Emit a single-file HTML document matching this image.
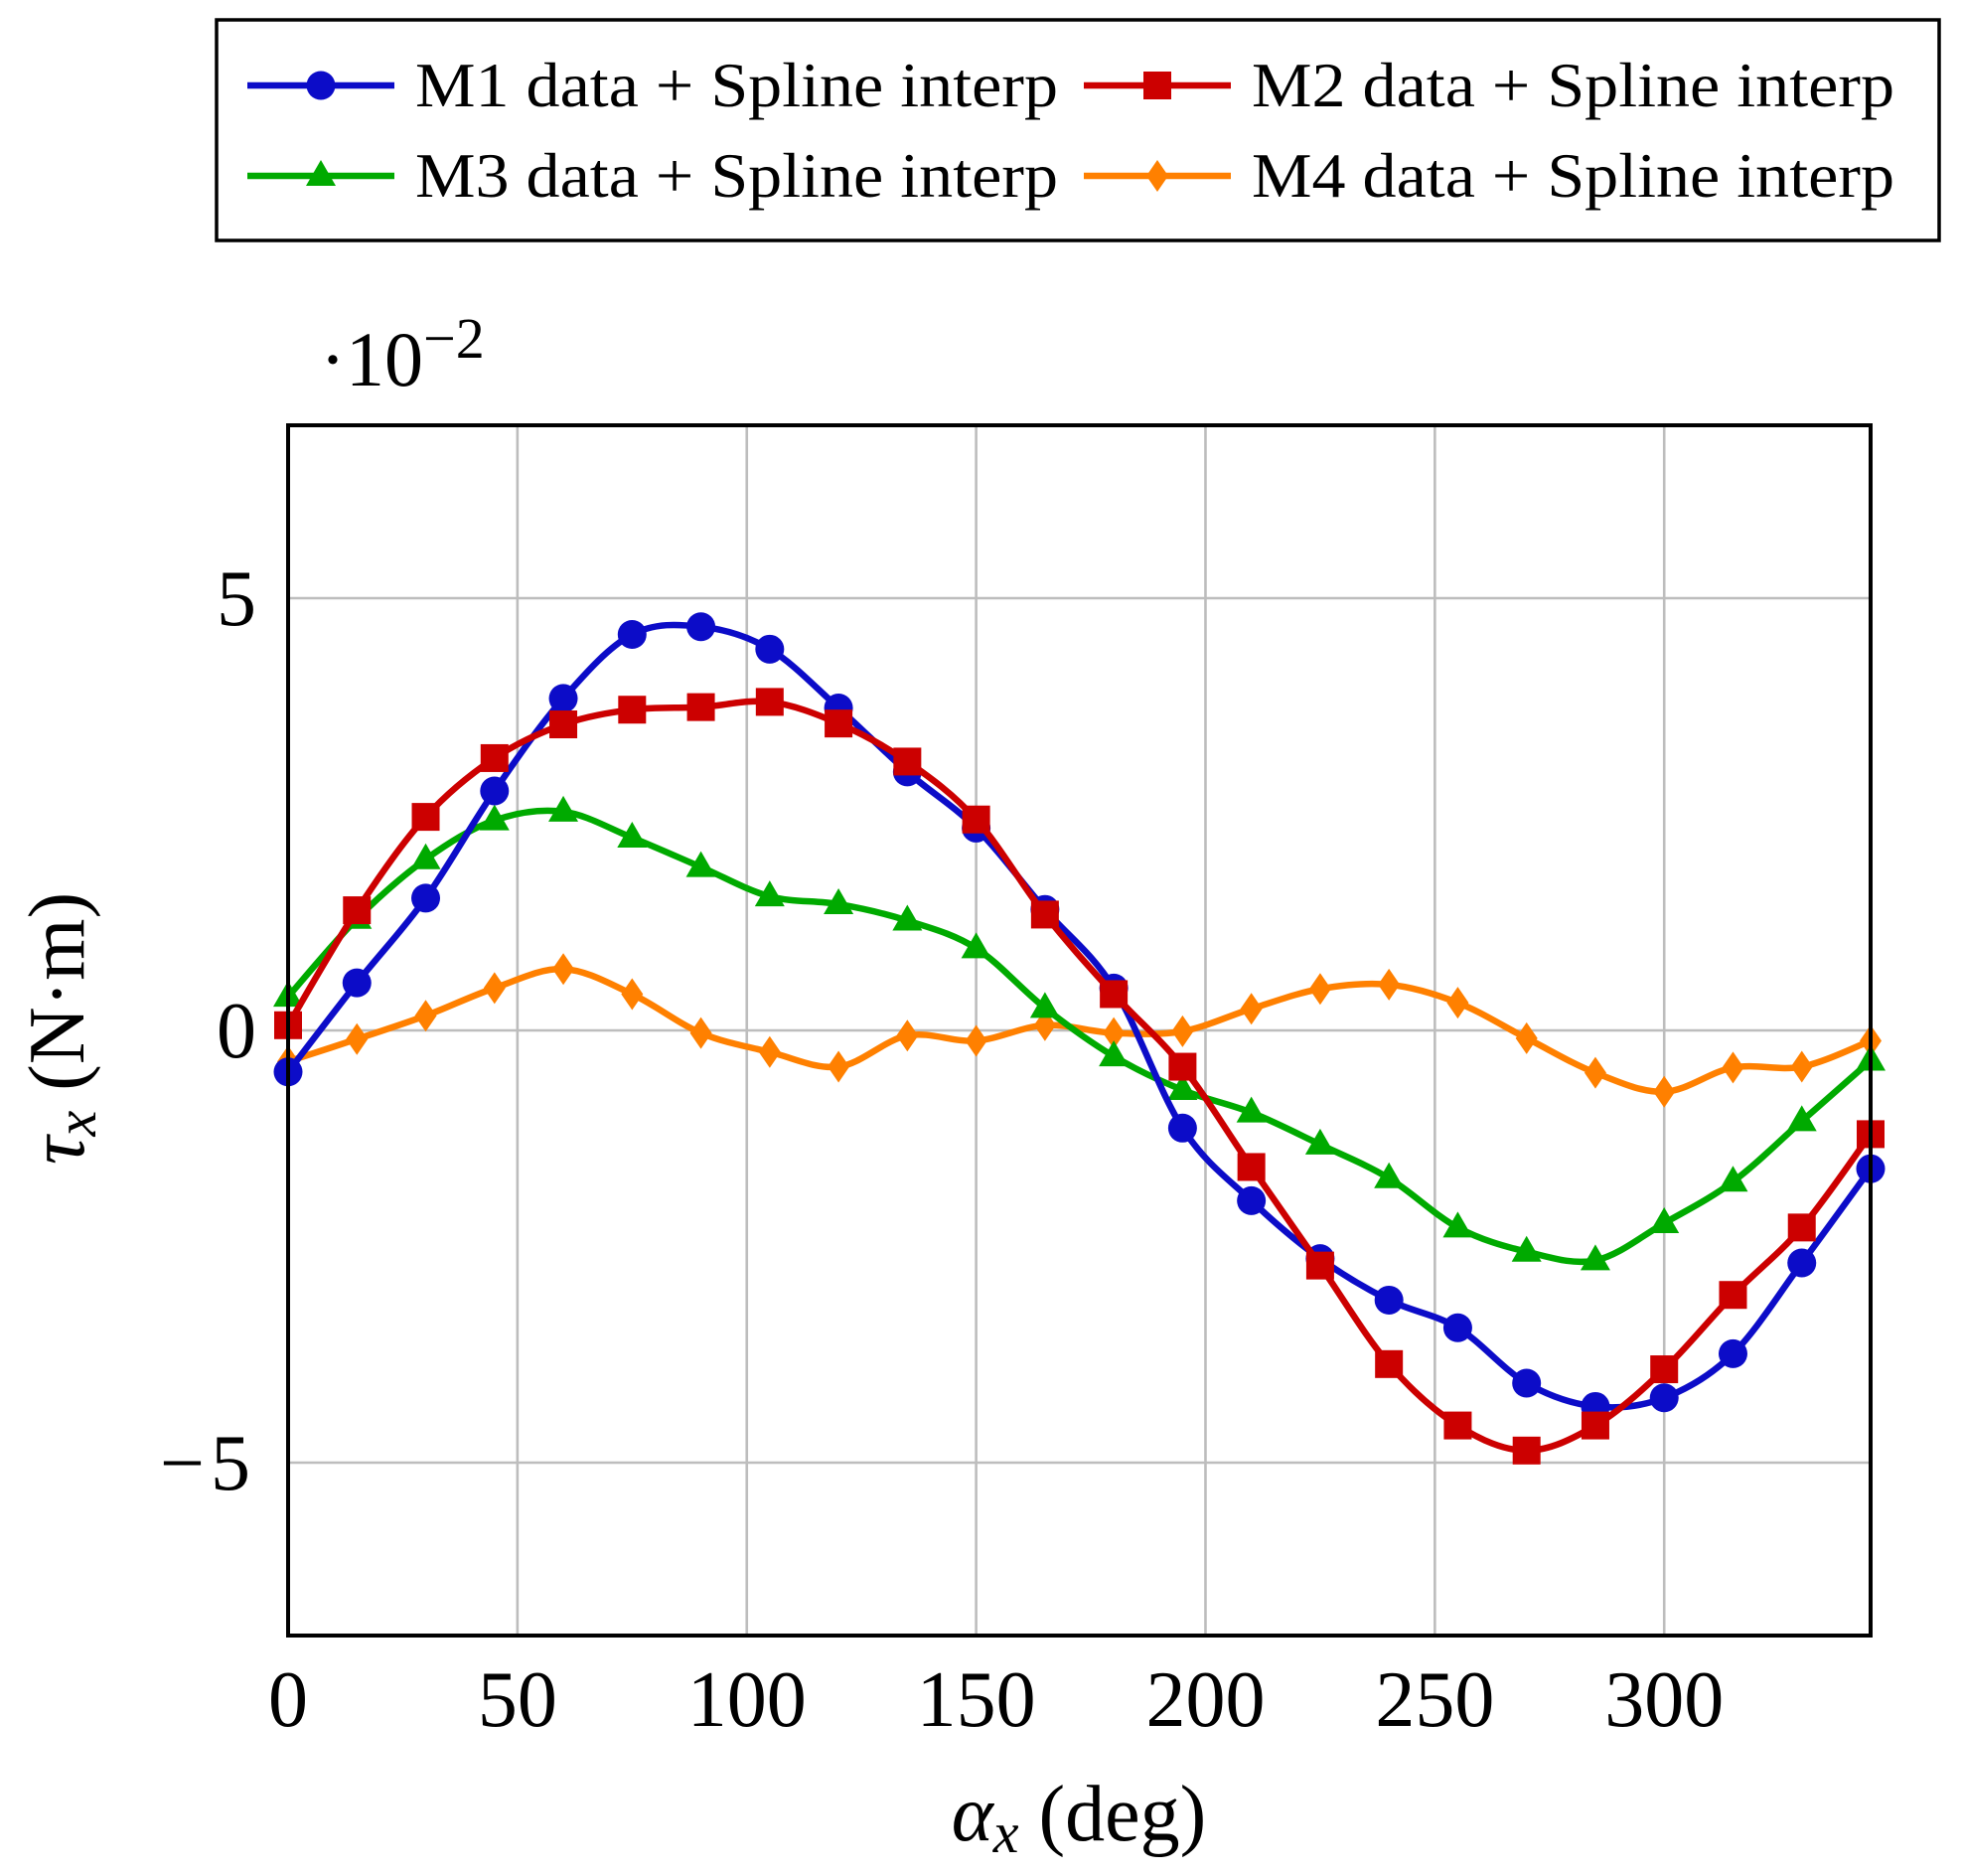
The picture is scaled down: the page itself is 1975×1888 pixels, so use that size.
<!DOCTYPE html>
<html><head><meta charset="utf-8"><style>
html,body{margin:0;padding:0;background:#fff}
svg{display:block;font-family:"Liberation Serif",serif}
</style></head><body>
<svg id="chart" width="1975" height="1888" viewBox="0 0 1975 1888" xmlns="http://www.w3.org/2000/svg">
<g id="grid"></g>
<g id="series"></g>
<rect x="290" y="428" width="1593" height="1218" fill="none" stroke="#000" stroke-width="4"/>
<g id="ticks" font-size="80"></g>
<text x="322" y="388" font-size="78">·10<tspan dy="-28" font-size="58">−2</tspan></text>
<text transform="translate(84,1035) rotate(-90)" text-anchor="middle" font-size="80"><tspan font-style="italic">τ</tspan><tspan font-style="italic" font-size="58" dy="12">x</tspan><tspan dy="-12"> (N·m)</tspan></text>
<text x="1086" y="1852" text-anchor="middle" font-size="80"><tspan font-style="italic">α</tspan><tspan font-style="italic" font-size="58" dy="12">x</tspan><tspan dy="-12"> (deg)</tspan></text>
<g id="legend">
<rect x="218" y="20" width="1734" height="222" fill="#fff" stroke="#000" stroke-width="3.5"/>
</g>
</svg>
<script>
const xs = [0,15,30,45,60,75,90,105,120,135,150,165,180,195,210,225,240,255,270,285,300,315,330,345];
const m1 = [-0.48,0.55,1.53,2.77,3.84,4.58,4.67,4.41,3.73,2.99,2.34,1.40,0.49,-1.13,-1.97,-2.64,-3.12,-3.44,-4.08,-4.35,-4.25,-3.74,-2.69,-1.60];
const m2 = [0.06,1.39,2.47,3.15,3.54,3.71,3.74,3.80,3.55,3.11,2.44,1.34,0.42,-0.42,-1.58,-2.72,-3.86,-4.57,-4.86,-4.57,-3.92,-3.06,-2.28,-1.20];
const m3 = [0.39,1.29,1.98,2.43,2.53,2.23,1.89,1.55,1.46,1.27,0.95,0.26,-0.30,-0.69,-0.95,-1.32,-1.71,-2.28,-2.56,-2.66,-2.23,-1.75,-1.05,-0.35];
const m4 = [-0.36,-0.10,0.17,0.49,0.71,0.42,-0.03,-0.25,-0.42,-0.06,-0.12,0.06,-0.03,-0.01,0.25,0.48,0.53,0.32,-0.09,-0.49,-0.71,-0.43,-0.42,-0.12];
const xTicks = [0,50,100,150,200,250,300];
const yTicks = [-5,0,5];
const seriesNames = ["M1 data + Spline interp","M2 data + Spline interp","M3 data + Spline interp","M4 data + Spline interp"];

const NS="http://www.w3.org/2000/svg";
const X0=290,X1=1883,Y0=428,Y1=1646;
const xMin=0,xMax=345,yMin=-7,yMax=7;
const sx=v=>X0+(v-xMin)/(xMax-xMin)*(X1-X0);
const sy=v=>Y1-(v-yMin)/(yMax-yMin)*(Y1-Y0);
function mk(tag,attrs,parent){const e=document.createElementNS(NS,tag);for(const k in attrs)e.setAttribute(k,attrs[k]);parent.appendChild(e);return e;}
const grid=document.getElementById('grid'),ticks=document.getElementById('ticks'),sg=document.getElementById('series'),lg=document.getElementById('legend');
xTicks.forEach(t=>{
  const l=mk('line',{x1:sx(t),x2:sx(t),y1:Y0,y2:Y1,stroke:'#bdbdbd','stroke-width':2.6},grid);
  
  
  const tx=mk('text',{x:sx(t),y:1737,'text-anchor':'middle'},ticks);tx.textContent=t;
  
  
});
yTicks.forEach(t=>{
  const l=mk('line',{x1:X0,x2:X1,y1:sy(t),y2:sy(t),stroke:'#bdbdbd','stroke-width':2.6},grid);
  
  
  const tx=mk('text',{x:258,y:sy(t)+27,'text-anchor':'end'},ticks);tx.textContent=t<0?'−'+Math.abs(t):t;
  if(t<0)tx.setAttribute('letter-spacing','6');
  
  
});
function splinePath(pts){
  let d=`M${pts[0][0]},${pts[0][1]}`;
  for(let i=0;i<pts.length-1;i++){
    const p0=pts[Math.max(0,i-1)],p1=pts[i],p2=pts[i+1],p3=pts[Math.min(pts.length-1,i+2)];
    const c1=[p1[0]+(p2[0]-p0[0])/6,p1[1]+(p2[1]-p0[1])/6],c2=[p2[0]-(p3[0]-p1[0])/6,p2[1]-(p3[1]-p1[1])/6];
    d+=` C${c1[0]},${c1[1]} ${c2[0]},${c2[1]} ${p2[0]},${p2[1]}`;
  }
  return d;
}
function marker(type,x,y,color,parent){
  let e;
  if(type==='circle')e=mk('circle',{cx:x,cy:y,r:14.5,fill:color},parent);
  else if(type==='square')e=mk('rect',{x:x-14,y:y-14,width:28,height:28,fill:color},parent);
  else if(type==='triangle')e=mk('polygon',{points:`${x},${y-16} ${x-15},${y+10} ${x+15},${y+10}`,fill:color},parent);
  else e=mk('polygon',{points:`${x},${y-16} ${x+11},${y} ${x},${y+16} ${x-11},${y}`,fill:color},parent);
  return e;
}
const series=[[m1,'#0c0cc8','circle','m1'],[m2,'#cc0000','square','m2'],[m3,'#00aa00','triangle','m3'],[m4,'#ff8000','diamond','m4']];
const draw=[series[3],series[2],series[0],series[1]];
draw.forEach(([ys,color,mt,nm])=>{
  const g=mk('g',{},sg);
  
  
  const pts=xs.map((x,i)=>[sx(x),sy(ys[i])]);
  const p=mk('path',{d:splinePath(pts),fill:'none',stroke:color,'stroke-width':6.5,'stroke-linejoin':'round'},g);
  
  
  pts.forEach(q=>{const m=marker(mt,q[0],q[1],color,g);
    
    });
});
const legPos=[[249,86],[1091,86],[249,177],[1091,177]];
series.forEach(([ys,color,mt,nm],i)=>{
  const [lx,ly]=legPos[i];
  const g=mk('g',{},lg);
  
  
  mk('line',{x1:lx,x2:lx+148,y1:ly,y2:ly,stroke:color,'stroke-width':6.5},g);
  marker(mt,lx+74,ly,color,g);
  const t=mk('text',{x:lx+169,y:ly+21,'font-size':64,textLength:647,lengthAdjust:'spacingAndGlyphs'},g);
  t.textContent=seriesNames[i];
});
</script>
</body></html>
